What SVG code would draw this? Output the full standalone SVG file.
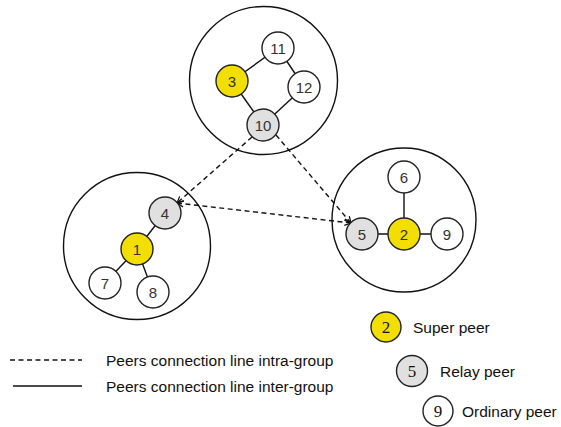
<svg xmlns="http://www.w3.org/2000/svg" width="561" height="427" viewBox="0 0 561 427">
<defs>
<style>
.grp{fill:none;stroke:#111;stroke-width:1.4}
.n{stroke:#222;stroke-width:1.4}
.w{fill:#fff}
.g{fill:#e0e0e0}
.y{fill:#f2df00}
.nt{font-family:"Liberation Sans",Arial,sans-serif;font-size:15px;fill:#333;text-anchor:middle}
.lt{font-family:"Liberation Serif","Times New Roman",serif;font-size:17px;fill:#111;text-anchor:middle}
.tx{font-family:"Liberation Sans",Arial,sans-serif;font-size:15.5px;fill:#111}
.sol{stroke:#111;stroke-width:1.4;fill:none}
.dash{stroke:#111;stroke-width:1.4;fill:none;stroke-dasharray:5 3.5}
</style>
<marker id="ar" viewBox="0 0 10 10" refX="9" refY="5" markerWidth="8" markerHeight="8" markerUnits="userSpaceOnUse" orient="auto-start-reverse">
<path d="M1,1 L9,5 L1,9" fill="none" stroke="#111" stroke-width="1.6"/>
</marker>
</defs>
<rect width="561" height="427" fill="#fff"/>
<g id="groups">
<circle class="grp" cx="263.5" cy="80.5" r="74"/>
<circle class="grp" cx="137" cy="246" r="73.5"/>
<circle class="grp" cx="404" cy="220" r="72"/>
</g>
<g id="connectors">
<line class="sol" x1="232" y1="81" x2="278" y2="48"/>
<line class="sol" x1="278" y1="48" x2="304" y2="87"/>
<line class="sol" x1="232" y1="81" x2="263" y2="125"/>
<line class="sol" x1="304" y1="87" x2="263" y2="125"/>
<line class="sol" x1="165" y1="213" x2="137" y2="249"/>
<line class="sol" x1="137" y1="249" x2="105" y2="283"/>
<line class="sol" x1="137" y1="249" x2="153" y2="292"/>
<line class="sol" x1="404" y1="177" x2="404" y2="234"/>
<line class="sol" x1="362" y1="234" x2="447" y2="234"/>
<line class="dash" x1="252" y1="137" x2="177" y2="203" marker-end="url(#ar)"/>
<line class="dash" x1="177" y1="203" x2="351" y2="223" marker-start="url(#ar)" marker-end="url(#ar)"/>
<line class="dash" x1="276" y1="135" x2="351" y2="223" marker-end="url(#ar)"/>
</g>
<g id="n11"><circle class="n w" cx="278" cy="48" r="16"/><text class="nt" x="278" y="53.5">11</text></g>
<g id="n3"><circle class="n y" cx="232" cy="81" r="16"/><text class="nt" x="232" y="86.5">3</text></g>
<g id="n12"><circle class="n w" cx="304" cy="87" r="16"/><text class="nt" x="304" y="92.5">12</text></g>
<g id="n10"><circle class="n g" cx="263" cy="125" r="16"/><text class="nt" x="263" y="130.5">10</text></g>
<g id="n4"><circle class="n g" cx="165" cy="213" r="16"/><text class="nt" x="165" y="218.5">4</text></g>
<g id="n1"><circle class="n y" cx="137" cy="249" r="16"/><text class="nt" x="137" y="254.5">1</text></g>
<g id="n7"><circle class="n w" cx="105" cy="283" r="16"/><text class="nt" x="105" y="288.5">7</text></g>
<g id="n8"><circle class="n w" cx="153" cy="292" r="16"/><text class="nt" x="153" y="297.5">8</text></g>
<g id="n6"><circle class="n w" cx="404" cy="177" r="16"/><text class="nt" x="404" y="182.5">6</text></g>
<g id="n5"><circle class="n g" cx="362" cy="234" r="16"/><text class="nt" x="362" y="239.5">5</text></g>
<g id="n2"><circle class="n y" cx="404" cy="234" r="16"/><text class="nt" x="404" y="239.5">2</text></g>
<g id="n9"><circle class="n w" cx="447" cy="234" r="16"/><text class="nt" x="447" y="239.5">9</text></g>
<g id="legend">
<line class="dash" x1="10" y1="360" x2="82" y2="360"/>
<text class="tx" x="106" y="365.5">Peers connection line intra-group</text>
<line class="sol" x1="13" y1="386" x2="82" y2="386"/>
<text class="tx" x="106" y="391.5">Peers connection line inter-group</text>
<circle class="n y" cx="386" cy="327" r="15"/><text class="lt" x="386" y="333">2</text>
<text class="tx" x="413" y="332.5">Super peer</text>
<circle class="n g" cx="412" cy="371" r="15.5"/><text class="lt" x="412" y="377">5</text>
<text class="tx" x="440" y="377">Relay peer</text>
<circle class="n w" cx="438" cy="411" r="15"/><text class="lt" x="438" y="417">9</text>
<text class="tx" x="462" y="416.5">Ordinary peer</text>
</g>
</svg>
